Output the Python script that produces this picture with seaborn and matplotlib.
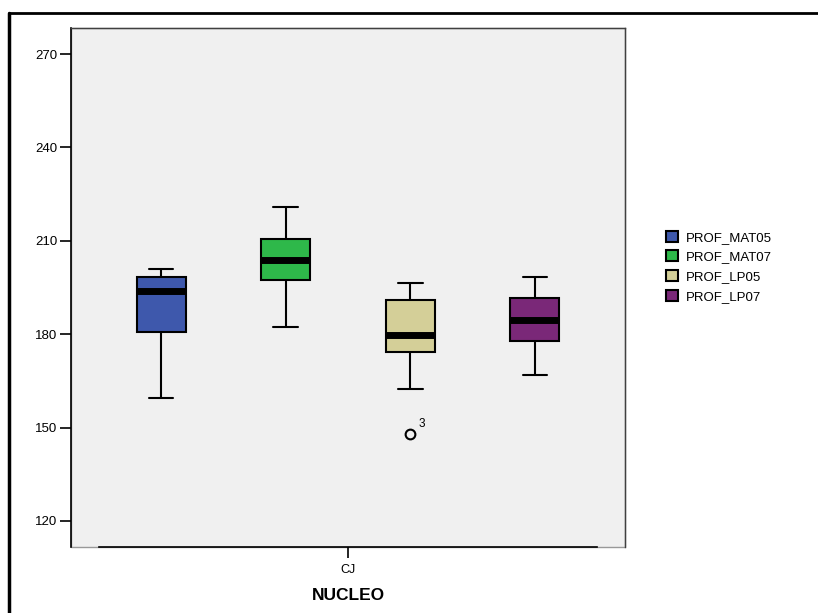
import numpy as np
import pandas as pd
import seaborn as sns
import matplotlib.pyplot as plt
from matplotlib.lines import Line2D
from matplotlib.patches import Rectangle

# values (one group: NUCLEO = CJ)
series_names = ['PROF_MAT05', 'PROF_MAT07', 'PROF_LP05', 'PROF_LP07']
prof_mat05 = [159.5, 180.6, 193.9, 198.4, 200.9]
prof_mat07 = [182.4, 197.4, 203.7, 210.7, 220.9]
prof_lp05 = [147.9, 162.5, 174.2, 176.0, 179.7, 186.0, 191.1, 194.0, 196.4]
prof_lp07 = [166.9, 177.8, 184.7, 191.5, 198.5]
outlier_case = '3'
outlier_value = 147.9
nucleo = 'CJ'
colors = ['#3e58ac', '#2eb84a', '#d4cf98', '#7a2878']
yticks = [120, 150, 180, 210, 240, 270]

rows = []
for name, vals in zip(series_names, [prof_mat05, prof_mat07, prof_lp05, prof_lp07]):
    for v in vals:
        rows.append({'NUCLEO': nucleo, 'var': name, 'value': v})
df = pd.DataFrame(rows)

sns.set_style('white')
plt.rcParams['font.family'] = ['Liberation Sans', 'DejaVu Sans']
plt.rcParams['text.color'] = 'black'
plt.rcParams['axes.labelcolor'] = 'black'
plt.rcParams['xtick.color'] = 'black'
plt.rcParams['ytick.color'] = 'black'

fig = plt.figure(figsize=(8.18, 6.13), dpi=100)
ax = fig.add_axes([71 / 818, 1 - 547 / 613, 554 / 818, 519 / 613])
ax.set_facecolor('#f0f0f0')

sns.boxplot(data=df, x='NUCLEO', y='value', hue='var', hue_order=series_names,
            palette=colors, saturation=1, width=0.9, gap=0.607,
            linecolor='black', linewidth=1.5, whis=1.5,
            medianprops=dict(linewidth=5, color='black'),
            flierprops=dict(marker='o', markersize=7, markerfacecolor='none',
                            markeredgecolor='black', markeredgewidth=1.5),
            ax=ax)

# case label next to the outlier
lp05_pos = series_names.index('PROF_LP05')
ax.annotate(outlier_case, xy=(0.225 * (lp05_pos - 1.5), outlier_value),
            xytext=(6, 5), textcoords='offset points', fontsize=8.5)

ax.set_xlim(-0.5, 0.5)
ax.set_ylim(111.6, 278.4)
ax.set_yticks(yticks)
ax.set_ylabel('')
ax.set_xlabel('NUCLEO', fontsize=12.5, fontweight='bold', labelpad=9)
ax.tick_params(axis='y', length=8, width=1.2, color='black', labelsize=9.5, pad=2, left=True)
ax.tick_params(axis='x', length=8, width=1.2, color='black', labelsize=9, pad=4, bottom=True)

for side in ['top', 'right']:
    ax.spines[side].set_color('#404040')
    ax.spines[side].set_linewidth(1)
ax.spines['left'].set_color('black')
ax.spines['left'].set_linewidth(1.2)
ax.spines['bottom'].set_color('black')
ax.spines['bottom'].set_linewidth(1.2)
ax.spines['bottom'].set_bounds(-0.45, 0.45)
ax.add_patch(Rectangle((0, 0), 1, 1, transform=ax.transAxes, fill=False,
                       edgecolor='#999999', linewidth=1, zorder=0.5, clip_on=False))

sns.move_legend(ax, 'center left', bbox_to_anchor=(1.052, 0.54), title=None,
                frameon=False, fontsize=9.5, handlelength=0.9, handleheight=0.9,
                handletextpad=0.6, labelspacing=0.5)

# outer frame (top and left edges)
fig.add_artist(Line2D([9 / 818, 1], [1 - 13 / 613, 1 - 13 / 613],
                      transform=fig.transFigure, color='black', linewidth=2))
fig.add_artist(Line2D([9 / 818, 9 / 818], [0, 1 - 13 / 613],
                      transform=fig.transFigure, color='black', linewidth=2.5))

fig.savefig('out.png', dpi=100)
